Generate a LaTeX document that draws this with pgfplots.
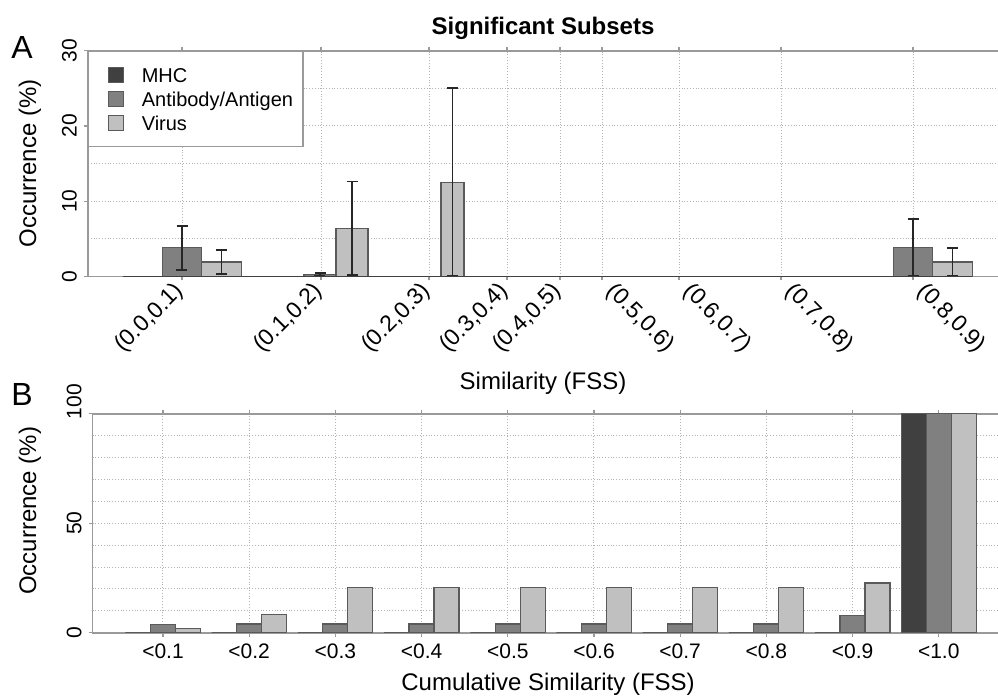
\documentclass[border=0pt]{standalone}
\usepackage{fontspec}
\setmainfont{Liberation Sans}
\usepackage{pgfplots}
\pgfplotsset{compat=1.18}

\definecolor{mhc}{HTML}{404040}
\definecolor{ab}{HTML}{808080}
\definecolor{vir}{HTML}{C0C0C0}
\definecolor{edge}{HTML}{5A5A5A}
\definecolor{axisgray}{HTML}{9A9A9A}
\definecolor{gridgray}{HTML}{B4B4B4}

\pgfplotsset{
  panel/.style={
    scale only axis,
    axis line style={axisgray, line width=0.8pt},
    tick style={axisgray, line width=0.6pt},
    tick align=outside,
    major tick length=2pt,
    minor tick length=0pt,
    grid=both,
    major grid style={gridgray, densely dotted, line width=0.5pt},
    minor grid style={gridgray, densely dotted, line width=0.5pt},
    tick label style={font=\fontsize{10.5}{12}\selectfont},
    label style={font=\fontsize{12}{14}\selectfont},
    /pgf/number format/assume math mode=true,
    yticklabel style={rotate=90, anchor=south},
    every axis plot/.append style={draw=edge, line width=0.6pt},
    every axis title shift=0pt,
  },
  errs/.style={
    error bars/.cd, y dir=both, y explicit,
    error bar style={black!85, line width=0.9pt},
    error mark options={black!85, rotate=90, mark size=2.75pt, line width=0.9pt},
  },
}

\begin{document}
\begin{tikzpicture}
\useasboundingbox (0,0) rectangle (499pt,-349pt);

\node[font=\fontsize{16}{18}\selectfont] at (11pt,-23.5pt) {A};
\node[font=\fontsize{16}{18}\selectfont] at (11pt,-197pt) {B};

% Panel A: occurrence per similarity interval (x in layout units)
\begin{axis}[panel,
  at={(44pt,-138.15pt)}, anchor=south west,
  width=460pt, height=112.8pt,
  xmin=88, xmax=1008, ymin=0, ymax=30,
  ytick={0,10,20,30}, minor ytick={5,15,25},
  xtick={182,321,429,507,560},
  xticklabels={(0.0,0.1),(0.1,0.2),(0.2,0.3),(0.3,0.4),(0.4,0.5)},
  xticklabel style={rotate=45, anchor=east, yshift=-2pt,
    font=\fontsize{11.5}{13}\selectfont},
  extra x ticks={602,679,781,913},
  extra x tick labels={(0.5,0.6),(0.6,0.7),(0.7,0.8),(0.8,0.9)},
  extra x tick style={xticklabel style={rotate=-90, anchor=west}},
  title={Significant Subsets},
  title style={at={(axis description cs:0.4946,1.1)}, anchor=center,
    font=\fontsize{12}{14}\selectfont\bfseries},
  xlabel={Similarity (FSS)},
  xlabel style={at={(axis description cs:0.4946,-0.475)}, anchor=center},
  ylabel={Occurrence (\%)},
  ylabel style={at={(axis description cs:-0.063,0.5)}, anchor=center},
  legend style={at={(0,1)}, anchor=north west, draw=axisgray, line width=0.6pt,
    fill=white, font=\fontsize{10}{12}\selectfont,
    inner xsep=5pt, inner ysep=5.75pt, row sep=0pt, column sep=9pt,
    nodes={inner sep=0pt, text height=9.6pt, text depth=2.4pt}},
  legend cell align=left,
  legend image code/.code={%
    \path (-4.5pt,0pt);
    \draw[#1, draw=edge, line width=0.6pt] (0pt,-3.75pt) rectangle (7.5pt,3.75pt);},
]
% groups at (0.0,0.1) and (0.8,0.9); bars placed at their own centres
\addplot[ybar, fill=mhc, bar width=39.5, bar shift=0]
  coordinates {(142.5,0) (873.5,0)};
\addplot[ybar, fill=ab, bar width=39.5, bar shift=0, errs]
  coordinates {(182,3.8) += (0,2.9) -= (0,3.0) (913,3.8) += (0,3.8) -= (0,3.7)};
\addplot[ybar, fill=vir, bar width=39.5, bar shift=0, errs]
  coordinates {(221.5,1.9) += (0,1.6) -= (0,1.55) (952.5,1.9) += (0,1.9) -= (0,1.8)};
\legend{MHC, Antibody/Antigen, Virus}
% group at (0.1,0.2)
\addplot[forget plot, ybar, fill=mhc, bar width=32, bar shift=0]
  coordinates {(288,0)};
\addplot[forget plot, ybar, fill=ab, bar width=32, bar shift=0, errs]
  coordinates {(320,0.2) += (0,0.25) -= (0,0.2)};
\addplot[forget plot, ybar, fill=vir, bar width=32, bar shift=0, errs]
  coordinates {(352,6.4) += (0,6.2) -= (0,6.27)};
% group at (0.2,0.3)
\addplot[forget plot, ybar, fill=mhc, bar width=23, bar shift=0]
  coordinates {(406.5,0)};
\addplot[forget plot, ybar, fill=ab, bar width=23, bar shift=0]
  coordinates {(429.5,0)};
\addplot[forget plot, ybar, fill=vir, bar width=23, bar shift=0, errs]
  coordinates {(452.5,12.5) +- (0,12.5)};
% empty intervals sit on the baseline
\addplot[forget plot, draw=black!75, line width=0.7pt]
  coordinates {(123,0) (972,0)};
\end{axis}

% Panel B: cumulative occurrence
\begin{axis}[panel,
  at={(46.35pt,-316.35pt)}, anchor=south west,
  width=457.65pt, height=109.5pt,
  xmin=0.1845, xmax=10.803, ymin=0, ymax=100,
  ytick={0,50,100}, yticklabels={0,50,\hspace*{12pt}100},
  minor ytick={10,20,30,40,60,70,80,90},
  xtick={1,2,3,4,5,6,7,8,9,10},
  xticklabels={<0.1,<0.2,<0.3,<0.4,<0.5,<0.6,<0.7,<0.8,<0.9,<1.0},
  xlabel={Cumulative Similarity (FSS)},
  xlabel style={at={(axis description cs:0.4975,-0.235)}, anchor=center},
  ylabel={Occurrence (\%)},
  ylabel style={at={(axis description cs:-0.0685,0.556)}, anchor=center},
]
\addplot[ybar, fill=mhc, bar width=0.29, bar shift=-0.29]
  coordinates {(1,0) (2,0) (3,0) (4,0) (5,0) (6,0) (7,0) (8,0) (9,0) (10,100)};
\addplot[ybar, fill=ab, bar width=0.29, bar shift=0]
  coordinates {(1,3.8) (2,4.0) (3,4.0) (4,4.0) (5,4.0) (6,4.0) (7,4.0) (8,4.0) (9,7.8) (10,100)};
\addplot[ybar, fill=vir, bar width=0.29, bar shift=0.29]
  coordinates {(1,1.9) (2,8.3) (3,20.8) (4,20.8) (5,20.8) (6,20.8) (7,20.8) (8,20.8) (9,22.7) (10,100)};
\end{axis}
\end{tikzpicture}
\end{document}
